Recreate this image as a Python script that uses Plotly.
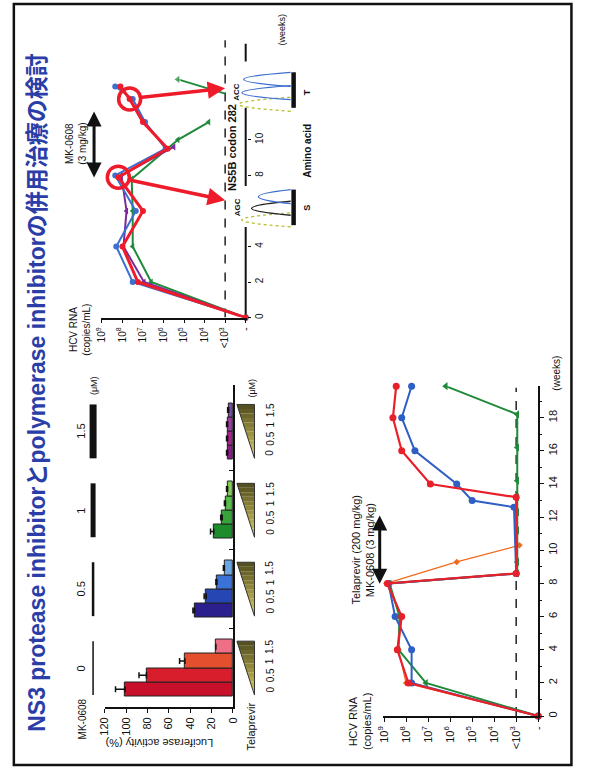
import plotly.graph_objects as go

W, H = 597, 776
FONT = "Liberation Sans, Arial, Noto Sans CJK JP, sans-serif"

# ---------------- data ----------------
title_text = "NS3 protease inhibitorとpolymerase inhibitorの併用治療の検討"

mk0608_conc = ["0", "0.5", "1", "1.5"]
telaprevir_conc = ["0", "0.5", "1", "1.5"]
luc_g1 = [101, 81, 45, 16]
luc_g2 = [36, 25, 15, 8]
luc_g3 = [18, 10, 7, 5]
luc_g4 = [5, 5, 5, 4]
luc_err_g1 = [9, 7, 5, 0]
luc_err_g2 = [1.5, 2, 1, 1]
luc_err_g3 = [3, 1.5, 1, 1]
luc_err_g4 = [1, 1, 1, 1]
col_g1 = ["#c8102a", "#d81e2c", "#e4502e", "#ee6f86"]
col_g2 = ["#2a1f8c", "#2646b4", "#3a72d6", "#6aa6e6"]
col_g3 = ["#1d8c2c", "#36a43a", "#58bc4a", "#86cc58"]
col_g4 = ["#8e1c8c", "#a8258e", "#9c3ea4", "#7c4cae"]
luc_ticks = [0, 20, 40, 60, 80, 100, 120]

rna_tickvals = [2, 3, 4, 5, 6, 7, 8, 9]
rna_ticktext = ["-", "<10<sup>3</sup>", "10<sup>4</sup>", "10<sup>5</sup>",
                "10<sup>6</sup>", "10<sup>7</sup>", "10<sup>8</sup>", "10<sup>9</sup>"]

# bottom chart: Telaprevir + MK-0608 (log10 copies/mL; 2 = "-", 3 = "<10^3")
bot_week_ticks = [0, 2, 4, 6, 8, 10, 12, 14, 16, 18]
bot_red_w = [0, 2, 4, 6, 8, 8.6, 13.2, 14, 16, 18, 19.9]
bot_red_v = [2, 7.9, 8.4, 8.2, 8.85, 3.0, 3.0, 6.9, 8.2, 8.6, 8.45]
bot_blue_w = [0, 2, 4, 6, 8, 8.6, 12.6, 13, 14, 16, 18, 19.9]
bot_blue_v = [2, 7.75, 7.75, 8.5, 8.8, 3.0, 3.1, 5.0, 5.7, 7.6, 8.2, 7.75]
bot_green_w = [0, 2, 4, 6, 8, 8.6, 9.3, 11.2, 12.3, 13.2, 14.2, 16.2, 18.2, 19.9]
bot_green_v = [2, 7.1, 8.35, 8.3, 8.75, 2.95, 2.95, 2.95, 2.95, 2.95, 2.95, 2.95, 2.95, 6.2]
bot_orange_w = [0, 2, 4, 6, 8, 9.3, 10.3]
bot_orange_v = [2, 8.0, 8.35, 8.2, 8.9, 5.7, 2.85]

# top chart: MK-0608 alone
top_week_ticks = [0, 2, 4, 8, 10]
top_red_w = [0, 2, 4, 6, 7.9, 9.5, 11, 12.3, 13]
top_red_v = [2, 7.25, 8.0, 7.0, 8.2, 5.8, 7.0, 7.65, 8.1]
top_blue_w = [0, 2, 4, 6, 8, 9.5, 11, 12.3, 13]
top_blue_v = [2, 7.5, 8.3, 7.35, 8.35, 5.9, 6.9, 7.5, 8.35]
top_purple_w = [0, 2, 4, 6, 8, 9.6]
top_purple_v = [2, 6.95, 7.95, 7.8, 8.05, 5.5]
top_green_w = [0, 2, 4, 6, 7.8, 10, 11]
top_green_v = [2, 6.6, 7.5, 7.5, 7.55, 5.3, 3.8]
top_green2_w = [12.6, 13.4]
top_green2_v = [3.0, 5.3]
circle_idx = [4, 7]
arrow_target_w = [6.6, 12.9]
arrow_target_v = [3.0, 3.0]
axis_segments_w = [[0, 5.1], [7.4, 11.8], [14.4, 15.4]]
agc_peak_w = [5.5, 6.15, 6.8]
acc_peak_w = [12.0, 12.65, 13.4]

# ---------------- geometry helpers (pixel -> paper) ----------------
def PX(x): return x / W
def PY(y): return 1 - y / H

def top_x(v): return 244 - (v - 2) * 21
def top_y(w): return 318 - w * 17.8
def bot_x(v): return 543 - (v - 2) * 22.5
def bot_y(w): return 717 - w * 16.6
BAR_W = 14.2
BAR_OFF = 1.25
def bar_x(v): return 231 - v * 131 / 120
def bar_y(p): return 708 - (p + BAR_OFF) * BAR_W
GAP = 79 / BAR_W
BAR_TOP = (708 - 385) / BAR_W - BAR_OFF
BOT_WMAX = 19.9

fig = go.Figure()

# ---------------- bar chart ----------------
groups = [(luc_g1, luc_err_g1, col_g1), (luc_g2, luc_err_g2, col_g2),
          (luc_g3, luc_err_g3, col_g3), (luc_g4, luc_err_g4, col_g4)]
for g, (vals, errs, cols) in enumerate(groups):
    fig.add_trace(go.Bar(
        x=vals, y=[g * GAP + b for b in range(len(vals))], orientation="h", width=1,
        marker=dict(color=cols, line=dict(color="#222", width=1)),
        error_x=dict(type="data", symmetric=False, array=errs, arrayminus=[0] * len(errs),
                     color="#111", thickness=1.5, width=3),
        xaxis="x", yaxis="y", showlegend=False, hoverinfo="skip"))

# ---------------- bottom chart traces ----------------
def line_trace(xs, ys, color, width, symbol, size, ax):
    return go.Scatter(x=xs, y=ys, mode="lines+markers", xaxis="x" + ax, yaxis="y" + ax,
                      line=dict(color=color, width=width),
                      marker=dict(symbol=symbol, size=size, color=color),
                      cliponaxis=False, showlegend=False, hoverinfo="skip")

fig.add_trace(go.Scatter(x=[3, 3], y=[0, 19.8], mode="lines", xaxis="x2", yaxis="y2",
                         line=dict(color="#111", width=1.4, dash="dash"), showlegend=False))
fig.add_trace(line_trace(bot_orange_v, bot_orange_w, "#f26a1b", 1.3, "diamond", 5, "2"))
fig.add_trace(line_trace(bot_green_v, bot_green_w, "#1f8a3a", 2, "triangle-left", 7, "2"))
fig.add_trace(line_trace(bot_blue_v, bot_blue_w, "#2f5fc4", 2, "circle", 7, "2"))
fig.add_trace(line_trace(bot_red_v, bot_red_w, "#e8202a", 2.2, "circle", 7, "2"))

# ---------------- top chart traces ----------------
fig.add_trace(go.Scatter(x=[3, 3], y=[0, 15.6], mode="lines", xaxis="x3", yaxis="y3",
                         line=dict(color="#111", width=1.4, dash="dash"), showlegend=False))
seg_x, seg_y = [], []
for s in axis_segments_w:
    seg_x += [2, 2, None]
    seg_y += [s[0], s[1], None]
fig.add_trace(go.Scatter(x=seg_x, y=seg_y, mode="lines", xaxis="x3", yaxis="y3",
                         line=dict(color="#111", width=2), showlegend=False))
fig.add_trace(line_trace(top_green_v, top_green_w, "#1f8a3a", 2, "triangle-left", 6, "3"))
fig.add_trace(line_trace(top_green2_v, top_green2_w, "#1f8a3a", 2, ["circle", "triangle-left"], [0, 8], "3"))
fig.add_trace(line_trace(top_purple_v, top_purple_w, "#7a2a9a", 2, "triangle-left", 6, "3"))
fig.add_trace(line_trace(top_blue_v, top_blue_w, "#3b6fd0", 2, "circle", 6, "3"))
fig.add_trace(line_trace(top_red_v, top_red_w, "#ee1c2a", 3, "circle", 6, "3"))
fig.add_trace(go.Scatter(x=[top_red_v[i] for i in circle_idx], y=[top_red_w[i] for i in circle_idx],
                         mode="markers", xaxis="x3", yaxis="y3", cliponaxis=False,
                         marker=dict(symbol="circle-open", size=22, color="#ee1c2a",
                                     line=dict(width=3.5, color="#ee1c2a")),
                         showlegend=False, hoverinfo="skip"))

# ---------------- axes ----------------
ax_common = dict(showgrid=False, zeroline=False, showline=True, linecolor="#111", linewidth=1.6,
                 tickcolor="#111", tickfont=dict(size=11, color="#111", family=FONT), fixedrange=True)
fig.update_layout(
    xaxis=dict(ax_common, domain=[PX(bar_x(120)), PX(bar_x(0))], range=[120, 0], anchor="y",
               tickvals=luc_ticks, ticks="outside", ticklen=4, tickangle=-90),
    yaxis=dict(ax_common, domain=[PY(bar_y(-BAR_OFF)), PY(bar_y(BAR_TOP))], range=[-BAR_OFF, BAR_TOP],
               anchor="x", side="right", tickvals=[g * GAP + (3 + GAP) / 2 for g in range(3)],
               ticks="inside", ticklen=4, showticklabels=False),
    xaxis2=dict(ax_common, domain=[PX(bot_x(9.05)), PX(bot_x(2))], range=[9.05, 2], anchor="y2",
                tickvals=rna_tickvals, ticktext=rna_ticktext, ticks="outside", ticklen=4, tickangle=-90),
    yaxis2=dict(ax_common, domain=[PY(bot_y(0)), PY(bot_y(BOT_WMAX))], range=[0, BOT_WMAX], anchor="x2",
                side="right", tickvals=bot_week_ticks, ticks="outside", ticklen=4, tickangle=-90,
                minor=dict(dtick=1, ticks="outside", ticklen=2.5, tickcolor="#111")),
    xaxis3=dict(ax_common, domain=[PX(top_x(9.05)), PX(top_x(1.93))], range=[9.05, 1.93], anchor="y3",
                tickvals=rna_tickvals, ticktext=rna_ticktext, ticks="outside", ticklen=4, tickangle=-90,
                tickfont=dict(size=10, color="#111", family=FONT)),
    yaxis3=dict(ax_common, domain=[PY(top_y(0)), PY(top_y(16.5))], range=[0, 16.5], anchor="x3",
                side="right", showline=False, tickvals=top_week_ticks, ticks="outside", ticklen=3,
                tickangle=-90, tickfont=dict(size=10, color="#111", family=FONT)),
)

# ---------------- annotations ----------------
anns = []
def txt(x, y, text, size=10, angle=-90, color="#111", bold=False):
    anns.append(dict(x=PX(x), y=PY(y), xref="paper", yref="paper", text=("<b>%s</b>" % text) if bold else text,
                     showarrow=False, textangle=angle, xanchor="center", yanchor="middle",
                     font=dict(size=size, color=color, family=FONT)))

def arrow(hx, hy, tx, ty, color, width, both=False, standoff=0, startstandoff=0):
    anns.append(dict(x=PX(hx), y=PY(hy), xref="paper", yref="paper", ax=tx - hx, ay=ty - hy,
                     axref="pixel", ayref="pixel", text="", showarrow=True, arrowcolor=color,
                     arrowwidth=width, arrowhead=2, arrowsize=1, startarrowhead=2, startarrowsize=1,
                     arrowside="end+start" if both else "end", standoff=standoff,
                     startstandoff=startstandoff))

txt(31, 393, title_text, size=23, color="#2b3ea8", bold=True)

# bar chart texts
shapes = []
txt(77, 720, "MK-0608", size=10)
for g, c in enumerate(mk0608_conc):
    txt(76, bar_y(g * GAP + 1.5), c, size=11)
mk_line_widths = [1.5, 2.5, 5, 7]
for g in range(4):
    y0 = bar_y(g * GAP - 0.4)
    y1 = bar_y(g * GAP + 3.4)
    shapes.append(dict(type="line", xref="paper", yref="paper", x0=PX(88), x1=PX(88),
                       y0=PY(y0), y1=PY(y1), line=dict(color="#111", width=mk_line_widths[g])))
txt(89, bar_y(3 * GAP + 3.5) - 17, "(μM)", size=9)
txt(156, 744, "Luciferase activity (%)", size=11, angle=180)
txt(250, 728, "Telaprevir", size=11)

def hexrgb(h):
    return [int(h[i:i + 2], 16) for i in (1, 3, 5)]
light, dark = hexrgb("#ddd060"), hexrgb("#4e4a1c")
N = 12
for g in range(4):
    yb = bar_y(g * GAP - 0.4)   # thin end (point)
    yt = bar_y(g * GAP + 3.4)   # thick end
    xs, xe = 253, 235
    for i in range(N):
        t0, t1 = i / N, (i + 1) / N
        c = [round(light[k] + (dark[k] - light[k]) * (t0 + t1) / 2) for k in range(3)]
        ya, yb2 = yb + (yt - yb) * t0, yb + (yt - yb) * t1
        path = "M %f,%f L %f,%f L %f,%f L %f,%f Z" % (
            PX(xs), PY(ya), PX(xs), PY(yb2), PX(xs + (xe - xs) * t1), PY(yb2),
            PX(xs + (xe - xs) * t0), PY(ya))
        shapes.append(dict(type="path", xref="paper", yref="paper", path=path,
                           fillcolor="rgb(%d,%d,%d)" % tuple(c), line=dict(width=0)))
    path = "M %f,%f L %f,%f L %f,%f Z" % (PX(xs), PY(yb), PX(xs), PY(yt), PX(xe), PY(yt))
    shapes.append(dict(type="path", xref="paper", yref="paper", path=path,
                       line=dict(color="#333", width=1)))
    for b, c in enumerate(telaprevir_conc):
        txt(269, bar_y(g * GAP + b), c, size=10)
txt(250, bar_y(3 * GAP + 3.5) - 15, "(μM)", size=9)

# bottom chart texts
txt(354, 722, "HCV RNA", size=11)
txt(368, 722, "(copies/mL)", size=11)
txt(357, bot_y(10), "Telaprevir (200 mg/kg)", size=11)
txt(371, bot_y(10), "MK-0608 (3 mg/kg)", size=11)
arrow(381, bot_y(12.1), 381, bot_y(7.9), "#111", 3, both=True)
txt(562, bot_y(20.7), "(weeks)", size=10)

# top chart texts
txt(68, 330, "HCV RNA", size=10)
txt(81, 330, "(copies/mL)", size=10)
txt(64, top_y(9.8), "MK-0608", size=10)
txt(77, top_y(9.8), "(3 mg/kg)", size=10)
arrow(89, top_y(11.6), 89, top_y(7.8), "#111", 3, both=True)
txt(230, top_y(9.6), "NS5B codon 282", size=11, bold=True)
txt(281, top_y(16.2), "(weeks)", size=9)
for i, tw, tv in zip(circle_idx, arrow_target_w, arrow_target_v):
    arrow(top_x(tv), top_y(tw), top_x(top_red_v[i]), top_y(top_red_w[i]), "#ee1c2a", 3.5,
          startstandoff=11)

# chromatograms
def peaks(ws, tips, colors, dashes):
    for w, tip, col, d in zip(ws, tips, colors, dashes):
        yc = top_y(w)
        xb = 290
        ctrl = xb + 2 * (tip - xb)
        path = "M %f,%f Q %f,%f %f,%f" % (PX(xb), PY(yc + 7), PX(ctrl), PY(yc), PX(xb), PY(yc - 7))
        shapes.append(dict(type="path", xref="paper", yref="paper", path=path,
                           line=dict(color=col, width=1.3, dash=d)))
peaks(agc_peak_w, [240, 250, 257], ["#b7bf2c", "#222222", "#3b6fd0"], ["dot", "solid", "solid"])
peaks(acc_peak_w, [237, 240, 242], ["#b7bf2c", "#3b6fd0", "#3b6fd0"], ["dot", "solid", "solid"])
for w0, w1 in [(5.2, 7.2), (11.8, 13.8)]:
    shapes.append(dict(type="line", xref="paper", yref="paper", x0=PX(293), x1=PX(293),
                       y0=PY(top_y(w0)), y1=PY(top_y(w1)), line=dict(color="#111", width=4.5)))
txt(235, top_y(6.2), "AGC", size=8, bold=True)
txt(235, top_y(12.7), "ACC", size=8, bold=True)
txt(307, top_y(6.2), "S", size=9, bold=True)
txt(307, top_y(12.7), "T", size=9, bold=True)
txt(307, top_y(9.4), "Amino acid", size=10, bold=True)

# frame
shapes.append(dict(type="rect", xref="paper", yref="paper", x0=PX(7), x1=PX(577), y0=PY(766), y1=PY(4),
                   line=dict(color="#111", width=2.5)))

fig.update_layout(width=W, height=H, autosize=False, margin=dict(l=0, r=0, t=0, b=0),
                  paper_bgcolor="white", plot_bgcolor="rgba(0,0,0,0)", showlegend=False,
                  bargap=0, font=dict(family=FONT, color="#111"),
                  annotations=anns, shapes=shapes)

fig.write_html("out.html", config={"displayModeBar": False})
